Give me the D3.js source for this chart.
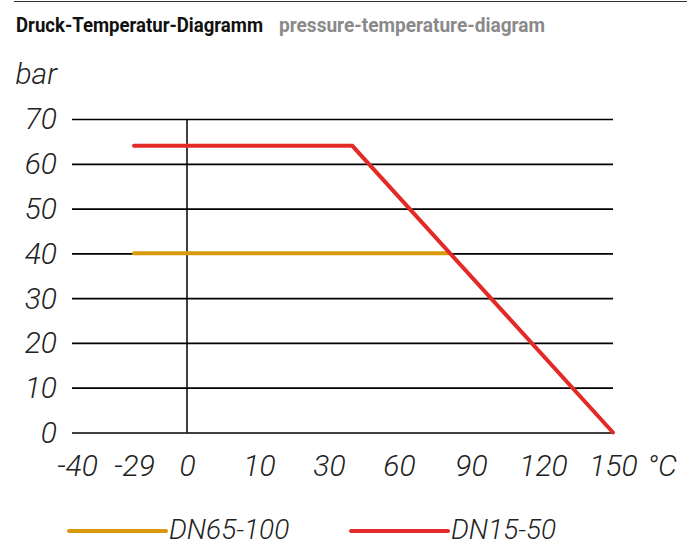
<!DOCTYPE html>
<html>
<head>
<meta charset="utf-8">
<script src="https://cdn.jsdelivr.net/npm/d3@7"></script>
<style>
  body { margin: 0; background: #fff; }
  text { font-family: Roboto, "Open Sans", sans-serif; }
</style>
</head>
<body>
<script>
// chart data
const xTicks = [-40, -29, 0, 10, 30, 60, 90, 120, 150];
const yTicks = [0, 10, 20, 30, 40, 50, 60, 70];
const seriesNames = ["DN65-100", "DN15-50"];
const seriesColors = ["#d8990b", "#e42a27"];
const dn65Temp = [-29, 80];
const dn65Bar = [40, 40];
const dn15Temp = [-29, 40, 150];
const dn15Bar = [64, 64, 0];

const W = 691, H = 547;

const svg = d3.select("body").append("svg")
    .attr("width", W)
    .attr("height", H);

// top rule + title
svg.append("line")
    .attr("x1", 14).attr("x2", 687)
    .attr("y1", 1.5).attr("y2", 1.5)
    .attr("stroke", "#333")
    .attr("stroke-width", 1.2);

svg.append("text")
    .attr("x", 16).attr("y", 32)
    .attr("font-size", 20)
    .attr("font-weight", "bold")
    .attr("fill", "#111")
    .attr("textLength", 247)
    .attr("lengthAdjust", "spacingAndGlyphs")
    .text("Druck-Temperatur-Diagramm");

svg.append("text")
    .attr("x", 279).attr("y", 32)
    .attr("font-size", 20)
    .attr("font-weight", "bold")
    .attr("fill", "#8a8a8a")
    .attr("textLength", 266)
    .attr("lengthAdjust", "spacingAndGlyphs")
    .text("pressure-temperature-diagram");

// the x axis is not evenly spaced, so a piecewise linear scale
var x = d3.scaleLinear()
    .domain(xTicks)
    .range([77, 134, 187, 259, 329, 399, 471, 543, 613]);

var y = d3.scaleLinear()
    .domain([0, 70])
    .range([432.5, 119]);

var gridLeft = 72, gridRight = x(150);

// y axis with grid lines
var yAxis = svg.append("g")
    .attr("transform", "translate(" + gridLeft + ",0)")
    .call(d3.axisLeft(y)
        .tickValues(yTicks)
        .tickSize(-(gridRight - gridLeft))
        .tickPadding(15));
yAxis.select(".domain").remove();
yAxis.selectAll(".tick line")
    .attr("stroke", "#000")
    .attr("stroke-width", 1.7);
yAxis.selectAll(".tick text")
    .attr("font-family", "Roboto, sans-serif")
    .attr("font-style", "italic")
    .attr("font-weight", 300)
    .attr("font-size", 30)
    .attr("fill", "#222")
    .attr("dy", "0.33em");

svg.append("text")
    .attr("x", 57).attr("y", 84)
    .attr("text-anchor", "end")
    .attr("font-style", "italic")
    .attr("font-weight", 300)
    .attr("font-size", 30)
    .attr("fill", "#222")
    .text("bar");

// vertical line at 0 °C
svg.append("line")
    .attr("x1", x(0)).attr("x2", x(0))
    .attr("y1", y(70)).attr("y2", y(0))
    .attr("stroke", "#000")
    .attr("stroke-width", 1.5);

// x axis labels (plain hyphen minus, like the original)
var xAxis = svg.append("g")
    .attr("transform", "translate(0," + y(0) + ")")
    .call(d3.axisBottom(x)
        .tickValues(xTicks)
        .tickFormat(d => String(d))
        .tickSize(0)
        .tickPadding(22));
xAxis.select(".domain").remove();
xAxis.selectAll(".tick text")
    .attr("font-family", "Roboto, sans-serif")
    .attr("font-style", "italic")
    .attr("font-weight", 300)
    .attr("font-size", 30)
    .attr("fill", "#222");

svg.append("text")
    .attr("x", 647).attr("y", 476)
    .attr("font-style", "italic")
    .attr("font-weight", 300)
    .attr("font-size", 30)
    .attr("fill", "#222")
    .text("°C");

// series lines
var line = d3.line()
    .x(d => x(d[0]))
    .y(d => y(d[1]));

var series = [
    d3.zip(dn65Temp, dn65Bar),
    d3.zip(dn15Temp, dn15Bar)
];

svg.selectAll(".series")
    .data(series)
    .enter().append("path")
    .attr("class", "series")
    .attr("d", line)
    .attr("fill", "none")
    .attr("stroke", (d, i) => seriesColors[i])
    .attr("stroke-width", 4)
    .attr("stroke-linecap", "round")
    .attr("stroke-linejoin", "miter");

// legend
var legendX = [69, 351];
var legend = svg.selectAll(".legend")
    .data(seriesNames)
    .enter().append("g")
    .attr("class", "legend")
    .attr("transform", (d, i) => "translate(" + legendX[i] + ",531)");

legend.append("line")
    .attr("x1", 0).attr("x2", 97)
    .attr("y1", 0).attr("y2", 0)
    .attr("stroke", (d, i) => seriesColors[i])
    .attr("stroke-width", 4)
    .attr("stroke-linecap", "round");

legend.append("text")
    .attr("x", 100).attr("y", 8)
    .attr("font-style", "italic")
    .attr("font-weight", 300)
    .attr("font-size", 28)
    .attr("fill", "#222")
    .text(d => d);
</script>
</body>
</html>
